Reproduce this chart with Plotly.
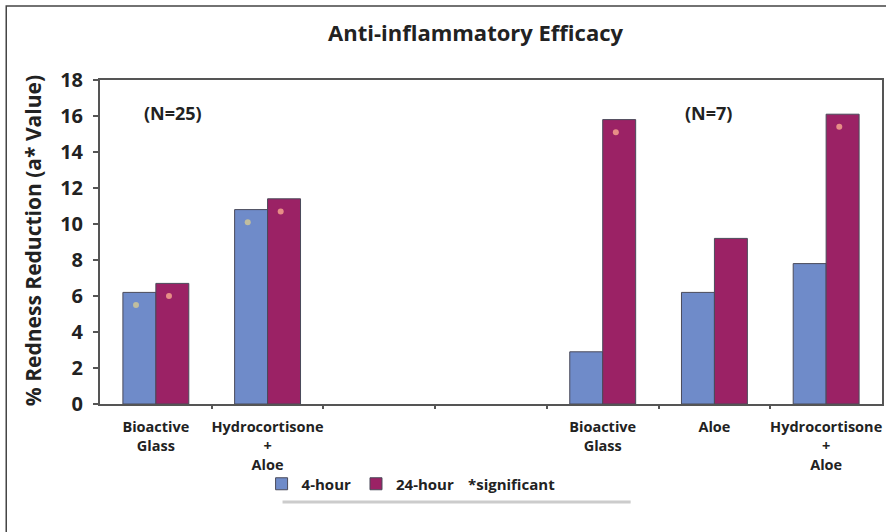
import plotly.graph_objects as go

# ---- data ----
categories = ["Bioactive<br>Glass", "Hydrocortisone<br>+<br>Aloe", "", "",
              "Bioactive<br>Glass", "Aloe", "Hydrocortisone<br>+<br>Aloe"]
hour4 = [6.2, 10.8, None, None, 2.9, 6.2, 7.8]
hour24 = [6.7, 11.4, None, None, 15.8, 9.2, 16.1]
sig4 = [True, True, False, False, False, False, False]
sig24 = [True, True, False, False, True, False, True]
y_ticks = [0, 2, 4, 6, 8, 10, 12, 14, 16, 18]
series_names = ["4-hour", "24-hour"]

# ---- layout geometry ----
W, H = 886, 532
L, R, T, B = 100, 2, 80, 128
PW, PH = W - L - R, H - T - B
def px(x): return (x - L) / PW
def py(y): return (T + PH - y) / PH

FONT = "Open Sans"
TXT = "#222222"
BLUE = "#6f8bc9"
RED = "#9b2265"
EDGE = "#4a4a5a"
BARGAP = 0.41

xs = list(range(len(categories)))
fig = go.Figure()
fig.add_trace(go.Bar(x=xs, y=hour4, name=series_names[0], marker=dict(color=BLUE, line=dict(color=EDGE, width=1))))
fig.add_trace(go.Bar(x=xs, y=hour24, name=series_names[1], marker=dict(color=RED, line=dict(color=EDGE, width=1))))

# significance dots
bw = (1 - BARGAP) / 2
for vals, sig, off, col in [(hour4, sig4, -bw / 2, "#c9c29a"), (hour24, sig24, bw / 2, "#f09a8a")]:
    sx = [i + off - 0.03 for i, (v, s) in enumerate(zip(vals, sig)) if s and v is not None]
    sy = [v - 0.7 for v, s in zip(vals, sig) if s and v is not None]
    fig.add_trace(go.Scatter(x=sx, y=sy, mode="markers", showlegend=False, hoverinfo="skip",
                             marker=dict(size=6, color=col, opacity=0.9, line=dict(width=0))))

fig.update_layout(
    width=W, height=H,
    margin=dict(l=L, r=R, t=T, b=B),
    paper_bgcolor="white", plot_bgcolor="white",
    barmode="group", bargap=BARGAP, bargroupgap=0,
    font=dict(family=FONT, color=TXT),
    showlegend=True,
    legend=dict(orientation="h", x=px(262), xanchor="left", y=py(484), yanchor="middle",
                font=dict(size=15, family=FONT, color=TXT, weight="bold"),
                bgcolor="rgba(0,0,0,0)", itemwidth=30, tracegroupgap=0),
)
fig.update_xaxes(range=[-0.5, len(categories) - 0.5], tickmode="array", tickvals=xs, ticktext=categories,
                 ticks="", showline=True, linecolor="#555555", linewidth=2, mirror=True,
                 ticklabelstandoff=9,
                 tickfont=dict(size=14.5, family=FONT, color=TXT, weight="bold"),
                 showgrid=False, zeroline=False,
                 minor=dict(tickmode="array", tickvals=[i + 0.5 for i in xs[:-1]], ticks="outside",
                            ticklen=3, tickwidth=2, tickcolor="#555555", showgrid=False))
fig.update_yaxes(range=[0, 18], tickmode="array", tickvals=y_ticks, ticks="outside", ticklen=5,
                 tickcolor="#555555", tickwidth=1.5, showline=True, linecolor="#555555", linewidth=2,
                 mirror=True, showgrid=False, zeroline=False, ticklabelstandoff=6,
                 tickfont=dict(size=20, family=FONT, color=TXT, weight="bold"))

ann = [
    dict(text="Anti-inflammatory Efficacy", x=px(477), y=py(32), size=22, xa="center"),
    dict(text="(N=25)", x=px(173), y=py(113), size=18, xa="center"),
    dict(text="(N=7)", x=px(710), y=py(113), size=18, xa="center"),
    dict(text="*significant", x=px(467), y=py(484), size=15, xa="left"),
]
for a in ann:
    fig.add_annotation(text="<b>%s</b>" % a["text"], x=a["x"], y=a["y"], xref="paper", yref="paper",
                       showarrow=False, xanchor=a["xa"], yanchor="middle",
                       font=dict(size=a["size"], family=FONT, color=TXT))
fig.add_annotation(text="<b>% Redness Reduction (a* Value)</b>", x=px(33), y=py(241), xref="paper", yref="paper",
                   showarrow=False, textangle=-90, xanchor="center", yanchor="middle",
                   font=dict(size=21, family=FONT, color=TXT))

# outer frame and legend underline
fig.add_shape(type="rect", xref="paper", yref="paper", x0=px(6), x1=px(895), y0=py(540), y1=py(6),
              line=dict(color="#444444", width=1.5), fillcolor="rgba(0,0,0,0)", layer="below")
fig.add_shape(type="line", xref="paper", yref="paper", x0=px(283), x1=px(632), y0=py(502), y1=py(502),
              line=dict(color="#cccccc", width=3))

fig.write_html("out.html", config={"displayModeBar": False},
               post_script="document.body.style.margin='0px';document.body.style.overflow='hidden';")
